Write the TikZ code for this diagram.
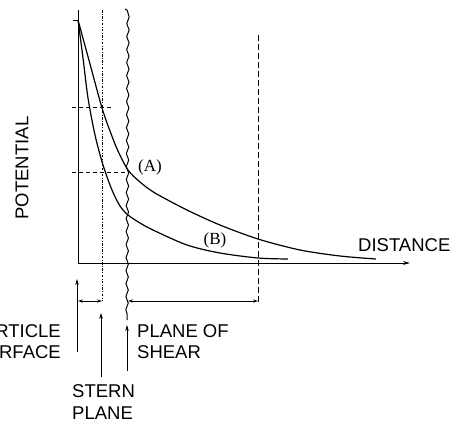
\documentclass[tikz,border=0pt]{standalone}
\usepackage{fontspec}
\setmainfont{Liberation Sans}
\newfontfamily\labserif{Liberation Serif}
\usetikzlibrary{arrows.meta,decorations.pathmorphing}
\begin{document}
\begin{tikzpicture}[x=1pt,y=-1pt,
  axis/.style={line width=0.9pt},
  curve/.style={line width=1.2pt},
  arr/.style={line width=0.8pt,-{Stealth[length=6pt,width=3.6pt]}},
  dblarr/.style={line width=0.8pt,{Stealth[length=5pt,width=3.2pt]}-{Stealth[length=5pt,width=3.2pt]}},
  guide/.style={line width=0.8pt,dash pattern=on 4pt off 3pt},
  longdash/.style={line width=1pt,dash pattern=on 6pt off 3pt},
  sternline/.style={line width=0.9pt,dash pattern=on 2.5pt off 1.5pt on 0.8pt off 1.5pt},
  shearline/.style={line width=1pt,decorate,decoration={snake,amplitude=1.2pt,segment length=13pt}},
  caps/.style={font=\fontsize{18.5}{21}\selectfont,inner sep=0pt},
  curvelab/.style={font=\labserif\fontsize{17}{19}\selectfont,inner sep=0pt}]
\useasboundingbox (0,0) rectangle (452,426);

% axes
\coordinate (O) at (78,263);
\coordinate (ytop) at (78,10);
\coordinate (xend) at (410,263);
\coordinate (V0) at (78,20);
\coordinate (tickL) at (73,20);
\draw[axis] (O) -- (ytop);
\draw[axis] (tickL) -- (V0);
\draw[axis,-{Stealth[length=7pt,width=3.8pt]}] (O) -- (xend);

% stern plane (dash-dot)
\coordinate (st1) at (102,10);
\coordinate (st2) at (102,301);
\draw[sternline] (st1) -- (st2);

% plane of shear (wavy)
\coordinate (sh0) at (125,9);
\coordinate (sh1) at (128,13);
\coordinate (sh2) at (127,320);
\draw[line width=1pt] (sh0) to[out=0,in=90] (sh1);
\draw[shearline] (sh1) -- (sh2);

% end of diffuse layer (dashed)
\coordinate (dl1) at (258,35);
\coordinate (dl2) at (258,302);
\draw[longdash] (dl1) -- (dl2);

% guide lines
\coordinate (g1a) at (72,107);
\coordinate (g1b) at (113,107);
\coordinate (g2a) at (72,172);
\coordinate (g2b) at (128,172);
\draw[guide] (g1a) -- (g1b);
\draw[guide] (g2a) -- (g2b);

% curves
\draw[curve] plot[smooth,tension=0.5] coordinates {(78,20) (90,64) (102,108) (110,131) (118,151) (128,170) (140,182) (155,193) (187,210) (220,225) (258,239) (300,250) (340,256) (376,259)};
\draw[curve] plot[smooth,tension=0.5] coordinates {(78,20) (83,58) (88,98) (95,135) (103,165) (112,190) (120,206) (128,215) (140,223) (153,230) (187,245) (220,253) (258,258) (288,259)};

\node[curvelab] (labA) at (150,167) {(A)};
\node[curvelab] (labB) at (215,240) {(B)};

% dimension arrows
\coordinate (d1a) at (78,301);
\coordinate (d1b) at (102,301);
\draw[dblarr] (d1a) -- (d1b);
\coordinate (d2a) at (128,301);
\coordinate (d2b) at (258,301);
\draw[dblarr] (d2a) -- (d2b);

% pointer arrows
\coordinate (p1a) at (77,352);
\coordinate (p1b) at (77,279);
\draw[arr] (p1a) -- (p1b);
\coordinate (p2a) at (101,377);
\coordinate (p2b) at (101,313);
\draw[arr] (p2a) -- (p2b);
\coordinate (p3a) at (127,371);
\coordinate (p3b) at (127,325);
\draw[arr] (p3a) -- (p3b);

% texts
\node[caps,anchor=base east] (part) at (61,337) {PARTICLE};
\node[caps,anchor=base east] (surf) at (61,358) {SURFACE};
\node[caps,anchor=base west] (plof) at (137,337) {PLANE OF};
\node[caps,anchor=base west] (shear) at (137,358) {SHEAR};
\node[caps,anchor=base west] (stern) at (72,397) {STERN};
\node[caps,anchor=base west] (plane) at (72,419) {PLANE};
\node[caps,anchor=base west] (dist) at (358,251.5) {DISTANCE};
\node[caps,rotate=90] (pot) at (22,168) {POTENTIAL};
\end{tikzpicture}
\end{document}
